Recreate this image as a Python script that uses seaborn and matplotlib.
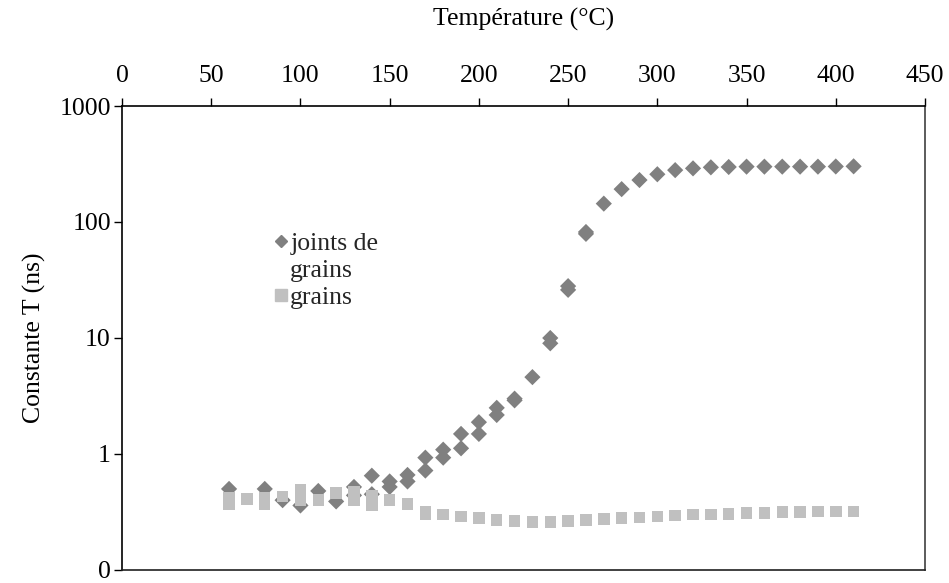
import matplotlib
matplotlib.use("Agg")
import matplotlib.pyplot as plt
from matplotlib.lines import Line2D
import seaborn as sns
import pandas as pd
import numpy as np

# ---- data ----
temp_joints = [60, 80, 90, 100, 110, 120, 130, 130, 140, 140, 150, 150, 160, 160,
               170, 170, 180, 180, 190, 190, 200, 200, 210, 210, 220, 220, 230,
               240, 240, 250, 250, 260, 260, 270, 280, 290, 300, 310, 320, 330,
               340, 350, 360, 370, 380, 390, 400, 410]
tau_joints = [0.50, 0.50, 0.40, 0.36, 0.48, 0.39, 0.52, 0.44, 0.65, 0.45, 0.58, 0.52,
              0.66, 0.58, 0.93, 0.72, 1.09, 0.93, 1.49, 1.12, 1.88, 1.49, 2.5, 2.17,
              3.0, 2.9, 4.6, 10.0, 9.0, 28.0, 26.0, 82.0, 79.0, 144, 192, 230, 258,
              280, 290, 296, 298, 300, 300, 300, 300, 300, 301, 302]

temp_grains = [60, 60, 70, 80, 80, 90, 100, 100, 110, 120, 130, 130, 140, 140, 150,
               160, 170, 170, 180, 190, 200, 210, 220, 230, 240, 250, 260, 270, 280,
               290, 300, 310, 320, 330, 340, 350, 360, 370, 380, 390, 400, 410]
tau_grains = [0.42, 0.37, 0.41, 0.42, 0.37, 0.43, 0.49, 0.40, 0.40, 0.46, 0.47, 0.40,
              0.44, 0.36, 0.40, 0.37, 0.32, 0.30, 0.30, 0.29, 0.28, 0.27, 0.265, 0.26,
              0.26, 0.265, 0.27, 0.275, 0.28, 0.285, 0.29, 0.295, 0.30, 0.30, 0.305,
              0.31, 0.31, 0.315, 0.315, 0.32, 0.32, 0.32]

x_ticks = [0, 50, 100, 150, 200, 250, 300, 350, 400, 450]
y_ticks = [0.1, 1, 10, 100, 1000]
y_tick_labels = ["0", "1", "10", "100", "1000"]

series_joints = "joints de grains"
series_grains = "grains"

df = pd.concat([
    pd.DataFrame({"T": temp_joints, "tau": tau_joints, "serie": series_joints}),
    pd.DataFrame({"T": temp_grains, "tau": tau_grains, "serie": series_grains}),
], ignore_index=True)

sns.set_theme(style="white")
plt.rcParams["font.family"] = ["Liberation Serif", "DejaVu Serif"]

FS = 18.5

fig = plt.figure(figsize=(9.49, 5.83), dpi=100)
ax = fig.add_axes([122 / 949, 13 / 583, 803 / 949, 464 / 583])

col_j = "#808080"
col_g = "#C0C0C0"

sns.scatterplot(data=df, x="T", y="tau", hue="serie", style="serie",
                palette={series_joints: col_j, series_grains: col_g},
                markers={series_joints: "D", series_grains: "s"},
                s=68, linewidth=0, ax=ax, legend=False, zorder=3)

ax.set_yscale("log")
ax.set_xlim(0, 450)
ax.set_ylim(0.1, 1000)
ax.set_xticks(x_ticks)
ax.set_xticklabels([str(v) for v in x_ticks])
ax.set_yticks(y_ticks)
ax.set_yticklabels(y_tick_labels)
ax.yaxis.set_minor_locator(matplotlib.ticker.NullLocator())

ax.xaxis.tick_top()
ax.xaxis.set_label_position("top")
ax.tick_params(axis="x", direction="out", length=6, width=1, colors="black",
               labelsize=FS, pad=8, top=True, bottom=False)
ax.tick_params(axis="y", direction="out", length=6, width=1, colors="black",
               labelsize=FS, pad=2, left=True)
for sp in ax.spines.values():
    sp.set_visible(True)
    sp.set_color("black")
    sp.set_linewidth(1.2)
ax.spines["right"].set_color("#404040")
ax.spines["bottom"].set_color("#202020")

ax.set_xlabel("Température (°C)", fontsize=FS, labelpad=28, color="black")
ax.set_ylabel("Constante T (ns)", fontsize=FS, labelpad=10, color="black")
ax.grid(False)

handles = [
    Line2D([], [], marker="D", color=col_j, linestyle="none", markersize=6.5),
    Line2D([], [], marker="none", linestyle="none"),
    Line2D([], [], marker="s", color=col_g, linestyle="none", markersize=8),
]
labels = ["joints de", "grains", "grains"]
leg = ax.legend(handles, labels, loc="upper left", bbox_to_anchor=(0.177, 0.75),
                frameon=False, fontsize=FS, handlelength=0.5, handletextpad=0.12,
                labelspacing=0.15, borderaxespad=0)

fig.savefig("out.png", dpi=100)
